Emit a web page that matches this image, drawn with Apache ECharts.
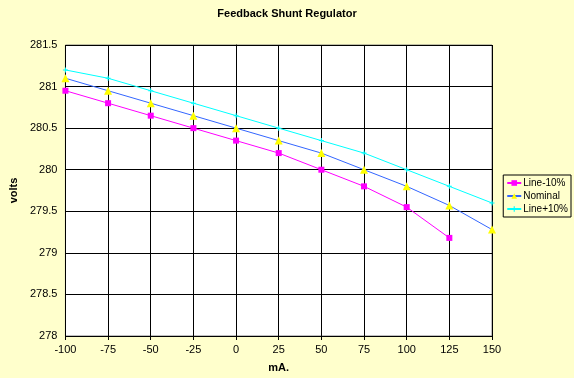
<!DOCTYPE html>
<html>
<head>
<meta charset="utf-8">
<script src="https://cdn.jsdelivr.net/npm/echarts@6/dist/echarts.min.js"></script>
<style>
  html, body { margin: 0; padding: 0; background: #FFFFCC; }
  #chart { width: 574px; height: 378px; }
</style>
</head>
<body>
<div id="chart"></div>
<script>
// data
var currents = [-100, -75, -50, -25, 0, 25, 50, 75, 100, 125, 150];
var lineMinus10 = [280.95, 280.8, 280.65, 280.5, 280.35, 280.2, 280.0, 279.8, 279.55, 279.18];
var nominal = [281.1, 280.95, 280.8, 280.65, 280.5, 280.35, 280.2, 280.0, 279.8, 279.57, 279.28];
var linePlus10 = [281.2, 281.1, 280.95, 280.8, 280.65, 280.5, 280.35, 280.2, 280.0, 279.8, 279.6];

function pairs(vals) {
  var out = [];
  for (var i = 0; i < vals.length; i++) {
    out.push([currents[i], vals[i]]);
  }
  return out;
}

var font = 'Liberation Sans, Arial, sans-serif';
var myChart = echarts.init(document.getElementById('chart'));

var option = {
  backgroundColor: '#FFFFCC',
  animation: false,
  title: {
    text: 'Feedback Shunt Regulator',
    left: 'center',
    top: 3,
    textStyle: { fontFamily: font, fontSize: 11, fontWeight: 'bold', color: '#000' }
  },
  grid: {
    left: 47, top: 45, right: 82, bottom: 33,
    show: true,
    backgroundColor: '#fff',
    borderColor: '#808080',
    borderWidth: 1
  },
  legend: {
    orient: 'vertical',
    right: 3,
    top: 175,
    padding: [3, 3, 3, 3],
    itemGap: 3,
    itemWidth: 14,
    itemHeight: 7,
    backgroundColor: '#FFFFCC',
    borderColor: '#000',
    borderWidth: 1,
    borderRadius: 0,
    textStyle: { fontFamily: font, fontSize: 10, color: '#000', padding: [0, 0, 0, -3] },
    data: ['Line-10%', 'Nominal', 'Line+10%']
  },
  xAxis: {
    type: 'value',
    min: -100, max: 150, interval: 25,
    name: 'mA.',
    nameLocation: 'middle',
    nameGap: 26,
    nameTextStyle: { fontFamily: font, fontSize: 11, fontWeight: 'bold', color: '#000' },
    axisLine: { lineStyle: { color: '#000', width: 1 } },
    axisTick: { show: true, length: 4, lineStyle: { color: '#000' } },
    axisLabel: { fontFamily: font, fontSize: 11, color: '#000', margin: 8 },
    splitLine: { show: true, lineStyle: { color: '#000', width: 1 } }
  },
  yAxis: {
    type: 'value',
    min: 278, max: 281.5, interval: 0.5,
    name: 'volts',
    nameLocation: 'middle',
    nameGap: 33,
    nameTextStyle: { fontFamily: font, fontSize: 11, fontWeight: 'bold', color: '#000' },
    axisLine: { show: true, lineStyle: { color: '#000', width: 1 } },
    axisTick: { show: true, length: 4, lineStyle: { color: '#000' } },
    axisLabel: { fontFamily: font, fontSize: 11, color: '#000', margin: 8 },
    splitLine: { show: true, lineStyle: { color: '#000', width: 1 } }
  },
  series: [
    {
      name: 'Line-10%',
      type: 'line',
      data: pairs(lineMinus10),
      symbol: 'rect',
      symbolSize: 6,
      lineStyle: { color: '#FF00FF', width: 1 },
      itemStyle: { color: '#FF00FF' },
      z: 4
    },
    {
      name: 'Nominal',
      type: 'line',
      data: pairs(nominal),
      symbol: 'triangle',
      symbolSize: 8,
      lineStyle: { color: '#3366FF', width: 1 },
      itemStyle: { color: '#FFFF00' },
      z: 3
    },
    {
      name: 'Line+10%',
      type: 'line',
      data: pairs(linePlus10),
      symbol: 'path://M4,0h2v10h-2zM0,4h10v2h-10z',
      symbolSize: 5,
      lineStyle: { color: '#00FFFF', width: 1 },
      itemStyle: { color: '#00FFFF' },
      z: 2
    }
  ]
};

myChart.setOption(option);
</script>
</body>
</html>
